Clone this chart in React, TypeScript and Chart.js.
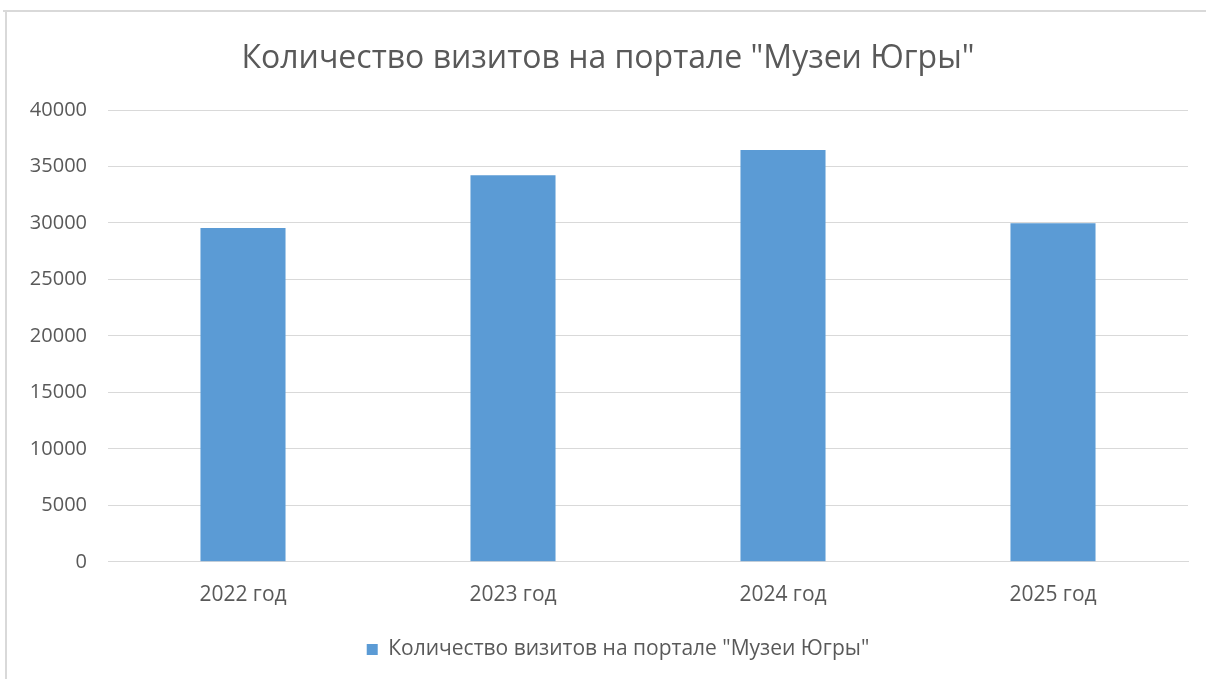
import React, { useEffect, useRef } from "react";
import { Chart, registerables } from "chart.js";

Chart.register(...registerables);

const categories = ["2022 год", "2023 год", "2024 год", "2025 год"];
const seriesLabel = 'Количество визитов на портале "Музеи Югры"';
const visits = [29550, 34230, 36450, 29980];
const titleText = 'Количество визитов на портале "Музеи Югры"';

const TEXT = "#595959";
const GRID = "#d9d9d9";
const BAR = "#5B9BD5";
const FONT = "'Open Sans', sans-serif";

const borderPlugin = {
  id: "frameBorder",
  afterLayout(chart: any) {
    if (chart.titleBlock) {
      chart.titleBlock.left += 14;
      chart.titleBlock.right += 14;
    }
    if (chart.legend) {
      chart.legend.left += 24;
      chart.legend.right += 24;
    }
  },
  beforeDraw(chart: any) {
    const ctx = chart.ctx;
    ctx.save();
    ctx.fillStyle = "#ffffff";
    ctx.fillRect(0, 0, chart.width, chart.height);
    ctx.strokeStyle = GRID;
    ctx.lineWidth = 2;
    ctx.beginPath();
    ctx.moveTo(3, 11);
    ctx.lineTo(chart.width, 11);
    ctx.moveTo(6, 11);
    ctx.lineTo(6, chart.height);
    ctx.stroke();
    ctx.restore();
  },
};

export default function App() {
  const ref = useRef<HTMLCanvasElement | null>(null);
  useEffect(() => {
    if (!ref.current) return;
    const chart = new Chart(ref.current, {
      type: "bar",
      data: {
        labels: categories,
        datasets: [
          {
            label: seriesLabel,
            data: visits,
            backgroundColor: BAR,
            borderWidth: 0,
            categoryPercentage: 1,
            barPercentage: 0.315,
          },
        ],
      },
      plugins: [borderPlugin],
      options: {
        responsive: false,
        animation: false,
        layout: { padding: { left: 0, right: 18, top: 0, bottom: 9 } },
        scales: {
          x: {
            grid: { display: false, drawTicks: false },
            border: { display: true, color: GRID, width: 1 },
            ticks: { color: TEXT, font: { family: FONT, size: 21 }, padding: 21 },
          },
          y: {
            min: 0,
            max: 40000,
            afterFit(scale: any) {
              scale.width = 108;
            },
            ticks: {
              stepSize: 5000,
              color: TEXT,
              font: { family: FONT, size: 20 },
              padding: 21,
              callback: (v: any) => String(v),
            },
            grid: { color: GRID, lineWidth: 1, drawTicks: false },
            border: { display: false },
          },
        },
        plugins: {
          tooltip: { enabled: false },
          title: {
            display: true,
            text: titleText,
            color: TEXT,
            font: { family: FONT, size: 32, weight: "normal" },
            padding: { top: 40, bottom: 31.6 },
          },
          legend: {
            position: "bottom",
            labels: {
              color: TEXT,
              font: { family: FONT, size: 21 },
              boxWidth: 11,
              boxHeight: 11,
              padding: 10,
            },
          },
        },
      },
    });
    return () => chart.destroy();
  }, []);
  return (
    <div style={{ position: "absolute", left: 0, top: 0, width: 1206, height: 679, background: "#fff" }}>
      <canvas ref={ref} width={1206} height={679} />
    </div>
  );
}
